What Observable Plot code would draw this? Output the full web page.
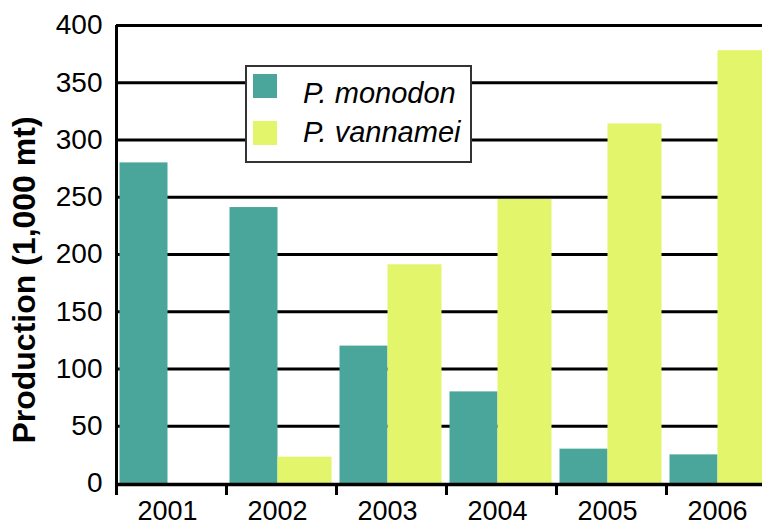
<!DOCTYPE html>
<html><head><meta charset="utf-8">
<script src="https://cdn.jsdelivr.net/npm/d3@7"></script>
<script src="https://cdn.jsdelivr.net/npm/@observablehq/plot@0.6"></script>
<style>
html,body{margin:0;padding:0;background:#fff;overflow:hidden;}
#wrap{position:relative;width:762px;height:525px;overflow:hidden;font-family:"Liberation Sans",Arial,Helvetica,sans-serif;}
#legend{position:absolute;left:245px;top:65px;width:223px;height:94px;border:2px solid #333;background:#fff;box-sizing:content-box;}
#legend .sw{position:absolute;left:6px;width:24px;height:24px;}
#legend .lb{position:absolute;left:56px;font-style:italic;font-size:29px;line-height:29px;white-space:nowrap;color:#000;}
#ytitle{position:absolute;left:-176px;top:264px;width:400px;height:32px;line-height:32px;font-size:32px;font-weight:bold;text-align:center;white-space:nowrap;transform:rotate(-90deg);transform-origin:50% 50%;color:#000;}
</style>
</head><body>
<div id="wrap"><div id="chart"></div><div id="ytitle"></div><div id="legend"></div></div>
<script>
const years = [2001, 2002, 2003, 2004, 2005, 2006];
const monodon = [280, 241, 120, 80, 30, 25];
const vannamei = [0, 23, 191, 248, 314, 378];
const yTicks = [0, 50, 100, 150, 200, 250, 300, 350, 400];
const species = ["P. monodon", "P. vannamei"];
const colors = ["#4aa59a", "#e3f56b"];
const yTitle = "Production (1,000 mt)";

const boundaries = years.map(y => y - 0.5);
const rowsM = years.map((year, i) => ({year, value: monodon[i]}));
const rowsV = years.map((year, i) => ({year, value: vannamei[i]})).filter(d => d.value > 0);

const chart = Plot.plot({
  width: 762, height: 525,
  marginLeft: 116, marginTop: 25, marginBottom: 42, marginRight: 0,
  x: {type: "linear", domain: [2000.5, 2006.5], range: [116, 776]},
  y: {domain: [0, 400], range: [483, 25]},
  style: {fontFamily: "'Liberation Sans', Arial, Helvetica, sans-serif", background: "#fff", overflow: "hidden", color: "#000"},
  marks: [
    Plot.ruleY(yTicks.filter(v => v > 0), {stroke: "#000", strokeWidth: 3}),
    Plot.rectY(rowsM, {x1: d => d.year - 0.5, x2: d => d.year, y1: 0, y2: "value", fill: colors[0], insetLeft: 3.5, insetRight: 3.5}),
    Plot.rectY(rowsV, {x1: d => d.year, x2: d => d.year + 0.5, y1: 0, y2: "value", fill: colors[1], insetLeft: -3.5, insetRight: 4.5}),
    Plot.ruleY([0], {stroke: "#000", strokeWidth: 3.5, dy: 1}),
    Plot.ruleX([2000.5], {stroke: "#000", strokeWidth: 3, insetBottom: -12}),
    Plot.axisX({ticks: boundaries, tickSize: 12, strokeWidth: 3, tickFormat: () => "", label: null}),
    Plot.axisX({ticks: years, tickSize: 0, tickPadding: 17, tickFormat: d => String(d), fontSize: 27, dx: -4, label: null}),
    Plot.axisY({ticks: yTicks, tickSize: 0, tickPadding: 14, fontSize: 28, label: null})
  ]
});
document.getElementById("chart").appendChild(chart);
document.getElementById("ytitle").textContent = yTitle;

const legend = document.getElementById("legend");
const swTops = [7, 54];
const lbTops = [12, 51];
species.forEach((s, i) => {
  const sw = document.createElement("div");
  sw.className = "sw"; sw.style.top = swTops[i] + "px"; sw.style.background = colors[i];
  legend.appendChild(sw);
  const lb = document.createElement("div");
  lb.className = "lb"; lb.style.top = lbTops[i] + "px"; lb.textContent = s;
  legend.appendChild(lb);
});
</script>
</body></html>
